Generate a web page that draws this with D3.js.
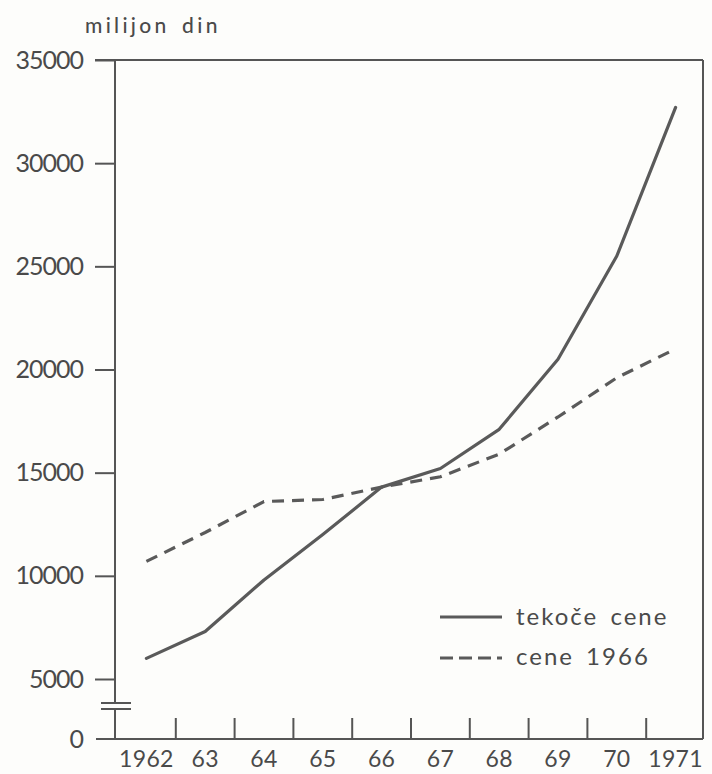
<!DOCTYPE html>
<html><head><meta charset="utf-8">
<script src="https://cdn.jsdelivr.net/npm/d3@7"></script>
<style>
html,body{margin:0;padding:0;background:#fdfdfb;}
svg{display:block;}
text{font-family:"Lato","DejaVu Sans",sans-serif;fill:#4a4a4a;}
</style></head>
<body>
<svg id="c" width="712" height="774"></svg>
<script>
const years = [1962,1963,1964,1965,1966,1967,1968,1969,1970,1971];
const yearLabels = ["1962","63","64","65","66","67","68","69","70","1971"];
const tekoceCene = [6000,7300,9800,12000,14300,15200,17100,20500,25500,32700];
const cene1966 = [10700,12100,13600,13700,14300,14800,15900,17700,19600,21000];
const yTicks = [5000,10000,15000,20000,25000,30000,35000];
const legendLabels = ["tekoče cene","cene 1966"];

(function(){
const svg = d3.select("#c");
const ink = "#555";
const pL = 115, pR = 703, pT = 60, pB = 739;

const x = d3.scaleBand().domain(years).range([117, 705]);
const y = d3.scaleLinear().domain([5000,35000]).range([679, pT]);
const cx = d => x(d) + x.bandwidth()/2;

// frame lines
svg.append("line").attr("x1",95).attr("x2",pR).attr("y1",pT).attr("y2",pT)
  .attr("stroke",ink).attr("stroke-width",2);
svg.append("line").attr("x1",96).attr("x2",pR).attr("y1",pB).attr("y2",pB)
  .attr("stroke",ink).attr("stroke-width",2);
svg.append("line").attr("x1",pR).attr("x2",pR).attr("y1",pT).attr("y2",pB)
  .attr("stroke",ink).attr("stroke-width",2);
svg.append("line").attr("x1",pL).attr("x2",pL).attr("y1",pT).attr("y2",pB)
  .attr("stroke",ink).attr("stroke-width",2);

// y axis ticks
const ya = svg.append("g").attr("transform",`translate(${pL},0)`)
  .call(d3.axisLeft(y).tickValues(yTicks).tickSize(20).tickPadding(12).tickFormat(d3.format("d")));
ya.select(".domain").remove();
ya.attr("font-family",null).attr("font-size",null);
ya.selectAll(".tick line").attr("stroke",ink).attr("stroke-width",2);
ya.selectAll(".tick text").attr("font-size",25).style("letter-spacing","-1px").attr("fill","#4a4a4a");
// zero label
svg.append("text").attr("x",84).attr("y",pB).attr("dy","0.35em").attr("text-anchor","end")
  .attr("font-size",25).text("0");
// axis break
[703,709].forEach(v=>{
  svg.append("line").attr("x1",101).attr("x2",131).attr("y1",v).attr("y2",v)
    .attr("stroke",ink).attr("stroke-width",2);
});
svg.append("rect").attr("x",pL-2).attr("y",704).attr("width",4).attr("height",4).attr("fill","#fdfdfb");

// x ticks at band boundaries
svg.selectAll(".xt").data(years.slice(1)).join("line").attr("class","xt")
  .attr("x1",d=>x(d)).attr("x2",d=>x(d)).attr("y1",pB-21).attr("y2",pB)
  .attr("stroke",ink).attr("stroke-width",2);
svg.selectAll(".xl").data(years).join("text").attr("class","xl")
  .attr("x",d=>cx(d)).attr("y",767).attr("text-anchor","middle")
  .attr("font-size",23).style("letter-spacing","0.3px")
  .text((d,i)=>yearLabels[i]);

// unit label
svg.append("text").attr("x",85).attr("y",33).attr("font-size",21).style("letter-spacing","3.3px")
  .style("word-spacing","4px").style("font-weight","500").text("milijon din");

const line = d3.line().x((d,i)=>cx(years[i])).y(d=>y(d));
svg.append("path").datum(tekoceCene).attr("d",line).attr("fill","none")
  .attr("stroke","#5a5a5a").attr("stroke-width",3.2).attr("stroke-linejoin","round").attr("stroke-linecap","round");
svg.append("path").datum(cene1966).attr("d",line).attr("fill","none")
  .attr("stroke","#5a5a5a").attr("stroke-width",3.2).attr("stroke-dasharray","12,8").attr("stroke-linecap","butt");

// legend
const lg = svg.append("g");
lg.append("line").attr("x1",440).attr("x2",502).attr("y1",617).attr("y2",617)
  .attr("stroke","#5a5a5a").attr("stroke-width",3.2);
lg.append("line").attr("x1",440).attr("x2",502).attr("y1",658).attr("y2",658)
  .attr("stroke","#5a5a5a").attr("stroke-width",3.2).attr("stroke-dasharray","13,6");
lg.append("text").attr("x",516).attr("y",625).attr("font-size",24).style("letter-spacing","2px").style("word-spacing","4px").text(legendLabels[0]);
lg.append("text").attr("x",516).attr("y",665).attr("font-size",24).style("letter-spacing","2px").style("word-spacing","4px").text(legendLabels[1]);
})();
</script>
</body></html>
